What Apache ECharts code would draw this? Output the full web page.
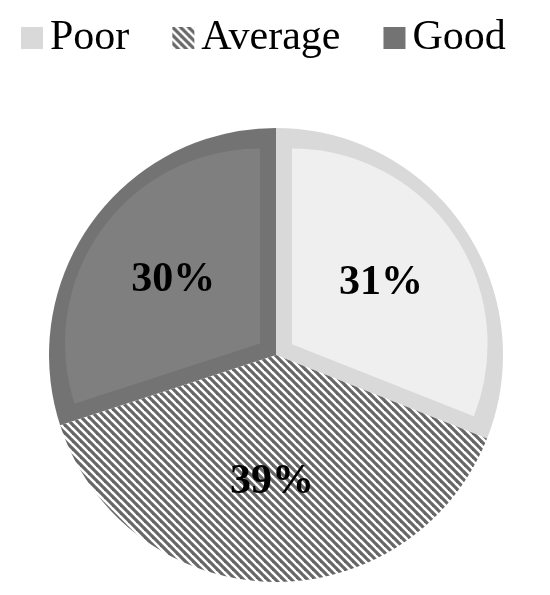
<!DOCTYPE html>
<html>
<head>
<meta charset="utf-8">
<script src="https://cdn.jsdelivr.net/npm/echarts@6/dist/echarts.min.js"></script>
<style>
  html, body { margin: 0; padding: 0; background: #ffffff; }
  #chart { width: 550px; height: 595px; }
</style>
</head>
<body>
<div id="chart"></div>
<script>
// Rating shares (percent)
const categories = ['Poor', 'Average', 'Good'];
const shares = [31, 39, 30];

// Solid slices get a lighter/darker inner rim; Average uses a stripe fill
const fillColors = ['#efefef', null, '#7f7f7f'];
const rimColors = ['#d9d9d9', null, '#737373'];

// Diagonal stripe tile for the Average slice (45 degrees, 8 px period)
function stripeTile() {
  const c = document.createElement('canvas');
  c.width = 8; c.height = 8;
  const g = c.getContext('2d');
  g.fillStyle = '#ffffff';
  g.fillRect(0, 0, 8, 8);
  g.strokeStyle = '#676767';
  g.lineWidth = 3.2;
  for (let k = -3; k <= 3; k++) {
    g.beginPath();
    g.moveTo(-8, -8 + k * 8);
    g.lineTo(16, 16 + k * 8);
    g.stroke();
  }
  return c;
}
const stripes = { image: stripeTile(), repeat: 'repeat' };

const CX = 276, CY = 355, R = 227, RIM = 16;
const clear = 'rgba(0,0,0,0)';

// Base layer: whole slices in rim colour (stripes for Average)
const baseData = categories.map((name, i) => ({
  name, value: shares[i],
  itemStyle: { color: i === 1 ? stripes : rimColors[i] }
}));

// Angular span of each slice, clockwise from 12 o'clock
const total = shares.reduce((a, b) => a + b, 0);
let acc = 0;
const spans = shares.map(v => {
  const s = acc / total * 360;
  acc += v;
  return [s, acc / total * 360];
});

// Inner fill for a solid slice: same angles, centre pushed along the bisector
// so the straight edges sit RIM px inside the slice edges
function innerSeries(i) {
  const [a0, a1] = spans[i];
  const h = (a1 - a0) / 2 * Math.PI / 180;
  const am = (a0 + a1) / 2 * Math.PI / 180;
  const e = RIM / Math.sin(h);
  const px = CX + e * Math.sin(am);
  const py = CY - e * Math.cos(am);
  const target = R - RIM;
  const rMid = target - e;
  const rEdge = -e * Math.cos(h) + Math.sqrt(e * e * Math.cos(h) * Math.cos(h) - e * e + target * target);
  return {
    type: 'pie', z: 2, silent: true,
    center: [px, py], radius: (rMid + rEdge) / 2,
    startAngle: 90, clockwise: true,
    label: { show: false }, labelLine: { show: false },
    emphasis: { disabled: true },
    data: categories.map((name, j) => ({
      name, value: shares[j],
      itemStyle: { color: j === i ? fillColors[i] : clear }
    }))
  };
}

const chart = echarts.init(document.getElementById('chart'), null, { renderer: 'canvas' });
chart.setOption({
  animation: false,
  backgroundColor: '#ffffff',
  legend: {
    data: categories,
    selectedMode: false,
    left: 16, top: 12,
    itemWidth: 22, itemHeight: 22, itemGap: 43,
    icon: 'rect',
    textStyle: {
      fontFamily: 'Liberation Serif', fontSize: 42, color: '#000000',
      padding: [0, 0, 0, 2]
    }
  },
  series: [
    {
      type: 'pie', z: 1, silent: true,
      center: [CX, CY], radius: R,
      startAngle: 90, clockwise: true,
      label: { show: false }, labelLine: { show: false },
      emphasis: { disabled: true },
      data: baseData
    },
    innerSeries(0),
    innerSeries(2),
    {
      type: 'pie', z: 3, silent: true,
      center: [CX, CY], radius: 248,
      startAngle: 90, clockwise: true,
      labelLine: { show: false },
      emphasis: { disabled: true },
      label: {
        show: true, position: 'inside',
        formatter: '{c}%',
        fontFamily: 'Liberation Serif', fontWeight: 'bold',
        fontSize: 42, color: '#000000'
      },
      itemStyle: { color: clear },
      data: categories.map((name, j) => ({ name, value: shares[j] }))
    }
  ]
});
</script>
</body>
</html>
